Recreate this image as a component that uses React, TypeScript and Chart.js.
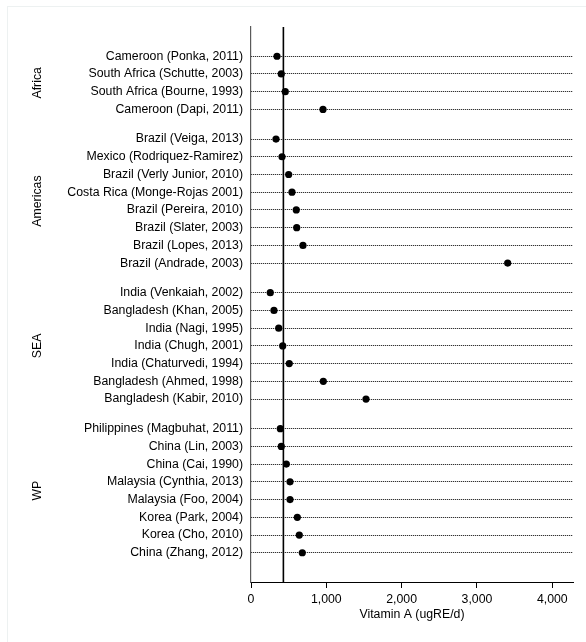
import React, { useEffect, useRef } from "react";
import { Chart, registerables } from "chart.js";

Chart.register(...registerables);

const GROUPS = ["Africa", "Americas", "SEA", "WP"];

const AFRICA_LABELS = [
  "Cameroon (Ponka, 2011)",
  "South Africa (Schutte, 2003)",
  "South Africa (Bourne, 1993)",
  "Cameroon (Dapi, 2011)",
];
const AFRICA_VALUES = [345, 402, 455, 956];

const AMERICAS_LABELS = [
  "Brazil (Veiga, 2013)",
  "Mexico (Rodriquez-Ramirez)",
  "Brazil (Verly Junior, 2010)",
  "Costa Rica (Monge-Rojas 2001)",
  "Brazil (Pereira, 2010)",
  "Brazil (Slater, 2003)",
  "Brazil (Lopes, 2013)",
  "Brazil (Andrade, 2003)",
];
const AMERICAS_VALUES = [332, 412, 500, 544, 601, 607, 690, 3408];

const SEA_LABELS = [
  "India (Venkaiah, 2002)",
  "Bangladesh (Khan, 2005)",
  "India (Nagi, 1995)",
  "India (Chugh, 2001)",
  "India (Chaturvedi, 1994)",
  "Bangladesh (Ahmed, 1998)",
  "Bangladesh (Kabir, 2010)",
];
const SEA_VALUES = [256, 305, 368, 421, 508, 960, 1527];

const WP_LABELS = [
  "Philippines (Magbuhat, 2011)",
  "China (Lin, 2003)",
  "China (Cai, 1990)",
  "Malaysia (Cynthia, 2013)",
  "Malaysia (Foo, 2004)",
  "Korea (Park, 2004)",
  "Korea (Cho, 2010)",
  "China (Zhang, 2012)",
];
const WP_VALUES = [389, 402, 469, 518, 518, 615, 641, 681];

const REFERENCE_VALUE = 430;
const X_TICKS = [0, 1000, 2000, 3000, 4000];
const X_MAX = 4275;
const X_TITLE = "Vitamin A (ugRE/d)";

const GROUP_LABELS = [AFRICA_LABELS, AMERICAS_LABELS, SEA_LABELS, WP_LABELS];
const GROUP_VALUES = [AFRICA_VALUES, AMERICAS_VALUES, SEA_VALUES, WP_VALUES];

// layout: row slots with extra gap between groups
const GAP = 0.67;
const PAD = 1.65;

type Row = { label: string; value: number; pos: number; group: number };
const ROWS: Row[] = [];
{
  let idx = 0;
  GROUP_LABELS.forEach((labels, g) => {
    labels.forEach((label, i) => {
      ROWS.push({ label, value: GROUP_VALUES[g][i], pos: idx + g * GAP, group: g });
      idx++;
    });
  });
}
const Y_MIN = -PAD;
const Y_MAX = ROWS[ROWS.length - 1].pos + PAD;

const FONT = "'Liberation Sans', Arial, Helvetica, sans-serif";
const FS = 12.3;

export default function App() {
  const ref = useRef<HTMLCanvasElement | null>(null);
  useEffect(() => {
    if (!ref.current) return;
    Chart.defaults.font.family = FONT;
    Chart.defaults.font.size = FS;
    Chart.defaults.color = "#000";

    const groupLabelPlugin = {
      id: "groupLabels",
      afterDraw(chart: any) {
        const ctx = chart.ctx;
        const y = chart.scales.y;
        ctx.save();
        ctx.fillStyle = "#000";
        ctx.font = `${FS}px ${FONT}`;
        ctx.textAlign = "center";
        ctx.textBaseline = "middle";
        GROUPS.forEach((name, g) => {
          const rows = ROWS.filter((r) => r.group === g);
          const mid = (rows[0].pos + rows[rows.length - 1].pos) / 2;
          const py = y.getPixelForValue(mid);
          ctx.save();
          ctx.translate(29.5, py);
          ctx.rotate(-Math.PI / 2);
          ctx.fillText(name, 0, 0);
          ctx.restore();
        });
        ctx.restore();
      },
    };

    const chart = new Chart(ref.current, {
      type: "scatter",
      data: {
        datasets: [
          {
            type: "scatter",
            data: ROWS.map((r) => ({ x: r.value, y: r.pos })),
            backgroundColor: "#000",
            borderWidth: 0,
            pointRadius: 3.6,
          },
          {
            type: "line",
            data: [
              { x: REFERENCE_VALUE, y: Y_MIN },
              { x: REFERENCE_VALUE, y: Y_MAX },
            ],
            borderColor: "#000",
            borderWidth: 1.6,
            pointRadius: 0,
            fill: false,
          } as any,
        ],
      },
      options: {
        animation: false,
        responsive: false,
        layout: { padding: { top: 19, right: 5, left: 0, bottom: 0 } },
        plugins: { legend: { display: false }, tooltip: { enabled: false } },
        scales: {
          x: {
            type: "linear",
            min: 0,
            max: X_MAX,
            afterBuildTicks: (scale: any) => {
              scale.ticks = X_TICKS.map((v) => ({ value: v }));
            },
            afterFit: (scale: any) => {
              scale.height = 46;
            },
            ticks: {
              padding: 4,
              font: { size: FS },
              color: "#000",
              callback: (v: any) => Number(v).toLocaleString("en-US"),
            },
            grid: {
              drawOnChartArea: false,
              drawTicks: true,
              tickLength: 6,
              tickColor: "#000",
              color: "#000",
            },
            border: { display: true, color: "#000", width: 1 },
            title: {
              display: true,
              text: X_TITLE,
              font: { size: FS },
              color: "#000",
              padding: { top: 0, bottom: 6 },
            },
          },
          y: {
            type: "linear",
            reverse: true,
            min: Y_MIN,
            max: Y_MAX,
            afterBuildTicks: (scale: any) => {
              scale.ticks = ROWS.map((r) => ({ value: r.pos }));
            },
            afterFit: (scale: any) => {
              scale.width = 243;
            },
            ticks: {
              autoSkip: false,
              padding: 8,
              font: { size: FS },
              color: "#000",
              callback: (_v: any, i: number) => ROWS[i].label,
            },
            grid: {
              drawTicks: false,
              color: "#000",
              lineWidth: 1,
            },
            border: { display: true, color: "#5a5a5a", width: 1.2, dash: [1, 1] },
          },
        },
      },
      plugins: [groupLabelPlugin],
    });
    return () => chart.destroy();
  }, []);

  return (
    <div>
      <div
        style={{
          position: "fixed",
          left: 7,
          top: 6,
          right: 0,
          bottom: 0,
          borderLeft: "1px solid #edf1f1",
          borderTop: "1px solid #edf1f1",
          pointerEvents: "none",
        }}
      />
      <canvas ref={ref} width={570} height={620} style={{ display: "block", width: 570, height: 620 }} />
    </div>
  );
}
